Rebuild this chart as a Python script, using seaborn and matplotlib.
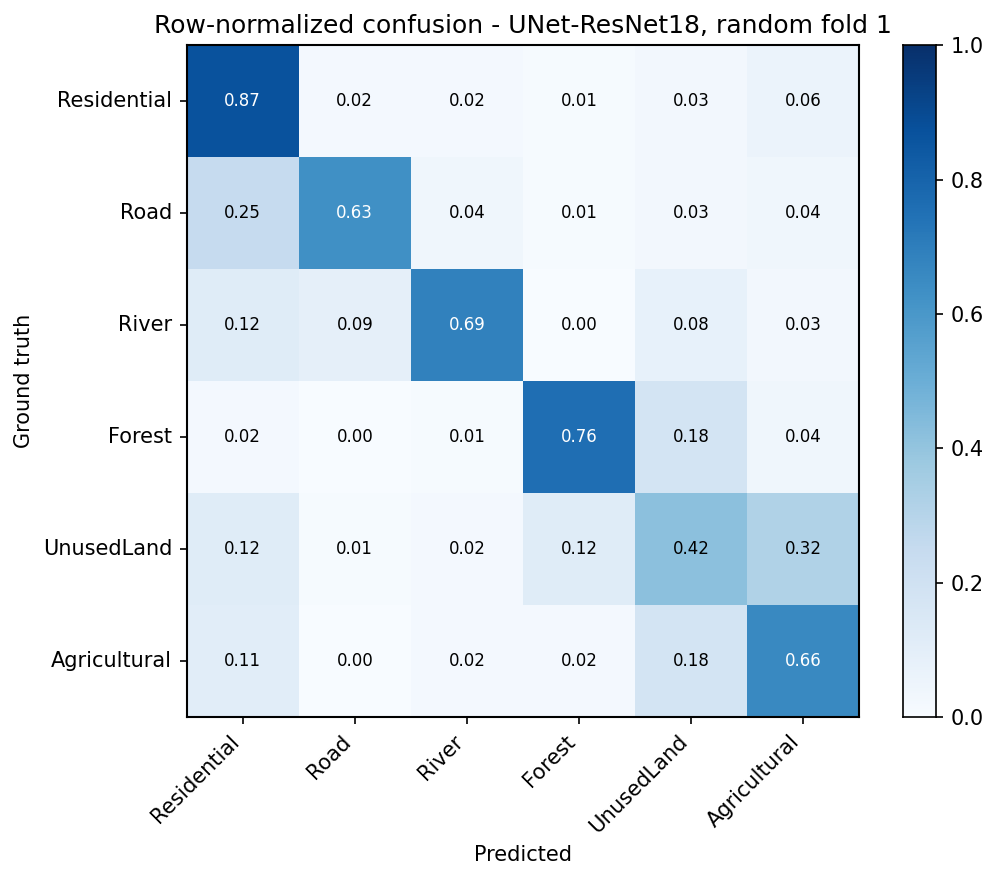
import numpy as np
import pandas as pd
import seaborn as sns
import matplotlib.pyplot as plt

# -----------------------------
# Data
# -----------------------------
classes = ["Residential", "Road", "River", "Forest", "UnusedLand", "Agricultural"]

row_residential = [0.87, 0.02, 0.02, 0.01, 0.03, 0.06]
row_road = [0.25, 0.63, 0.04, 0.01, 0.03, 0.04]
row_river = [0.12, 0.09, 0.69, 0.00, 0.08, 0.03]
row_forest = [0.02, 0.00, 0.01, 0.76, 0.18, 0.04]
row_unused = [0.12, 0.01, 0.02, 0.12, 0.42, 0.32]
row_agri = [0.11, 0.00, 0.02, 0.02, 0.18, 0.66]

cm = pd.DataFrame(
    [row_residential, row_road, row_river, row_forest, row_unused, row_agri],
    index=classes, columns=classes,
)

# -----------------------------
# Plot
# -----------------------------
fig = plt.figure(figsize=(999 / 150, 881 / 150), dpi=150)
ax = fig.add_axes([0.1869, 0.1862, 0.6730, 0.7622])
cax = fig.add_axes([0.9036, 0.1862, 0.0333, 0.7622])

sns.heatmap(cm, ax=ax, cbar_ax=cax, cmap="Blues", vmin=0, vmax=1,
            annot=True, fmt=".2f", annot_kws={"size": 8})

# white text on dark cells
vals = cm.values.ravel()
for t, v in zip(ax.texts, vals):
    t.set_color("white" if v > 0.5 else "black")

for s in ax.spines.values():
    s.set_visible(True)
    s.set_linewidth(1.0)
    s.set_color("black")
cax.set_frame_on(True)
for s in cax.spines.values():
    s.set_visible(True)
    s.set_color("black")
cax.set_yticks([0.0, 0.2, 0.4, 0.6, 0.8, 1.0])
cax.tick_params(labelsize=10)

ax.set_xticklabels(classes, rotation=45, ha="right", rotation_mode="default")
ax.set_yticklabels(classes, rotation=0)
ax.tick_params(labelsize=10)
ax.set_xlabel("Predicted")
ax.set_ylabel("Ground truth")
ax.set_title("Row-normalized confusion - UNet-ResNet18, random fold 1", fontsize=12)

fig.savefig("out.png", dpi=150)
plt.close(fig)
